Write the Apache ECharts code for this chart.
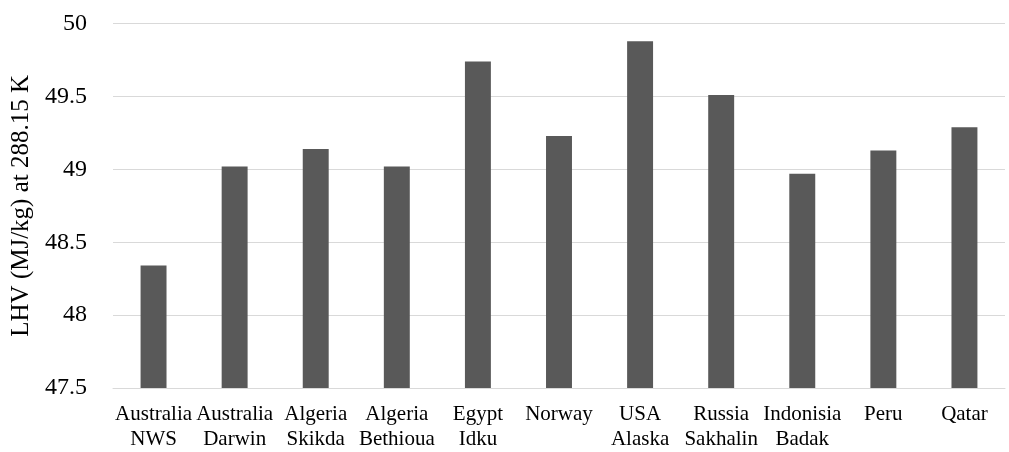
<!DOCTYPE html>
<html>
<head>
<meta charset="utf-8">
<script src="https://cdn.jsdelivr.net/npm/echarts@6/dist/echarts.min.js"></script>
<style>
html,body{margin:0;padding:0;background:#fff;}
#chart{width:1009px;height:452px;}
</style>
</head>
<body>
<div id="chart"></div>
<script>
const categories = ['Australia\nNWS', 'Australia\nDarwin', 'Algeria\nSkikda', 'Algeria\nBethioua', 'Egypt\nIdku', 'Norway', 'USA\nAlaska', 'Russia\nSakhalin', 'Indonisia\nBadak', 'Peru', 'Qatar'];
const lhvValues = [48.34, 49.02, 49.14, 49.02, 49.74, 49.23, 49.88, 49.51, 48.97, 49.13, 49.29];
const yTitle = 'LHV (MJ/kg) at 288.15 K';
const yMin = 47.5, yMax = 50, yStep = 0.5;

const chart = echarts.init(document.getElementById('chart'));
const font = '"Liberation Serif", "Times New Roman", serif';
chart.setOption({
  animation: false,
  backgroundColor: '#ffffff',
  grid: { left: 113, right: 4, top: 23.7, bottom: 64, containLabel: false },
  xAxis: {
    type: 'category',
    data: categories,
    axisLine: { show: true, lineStyle: { color: '#d9d9d9', width: 1 } },
    axisTick: { show: false },
    axisLabel: { interval: 0, color: '#000', fontFamily: font, fontSize: 21, lineHeight: 25, margin: 14 }
  },
  yAxis: {
    type: 'value',
    min: yMin, max: yMax, interval: yStep,
    name: yTitle,
    nameLocation: 'middle',
    nameGap: 71,
    nameTextStyle: { color: '#000', fontFamily: font, fontSize: 25 },
    axisLine: { show: false },
    axisTick: { show: false },
    splitLine: { lineStyle: { color: '#d9d9d9', width: 1 } },
    axisLabel: { color: '#000', fontFamily: font, fontSize: 24, margin: 26, formatter: v => String(+v.toFixed(1)) }
  },
  series: [{
    type: 'bar',
    data: lhvValues,
    barWidth: '32%',
    itemStyle: { color: '#595959' }
  }]
});
</script>
</body>
</html>
